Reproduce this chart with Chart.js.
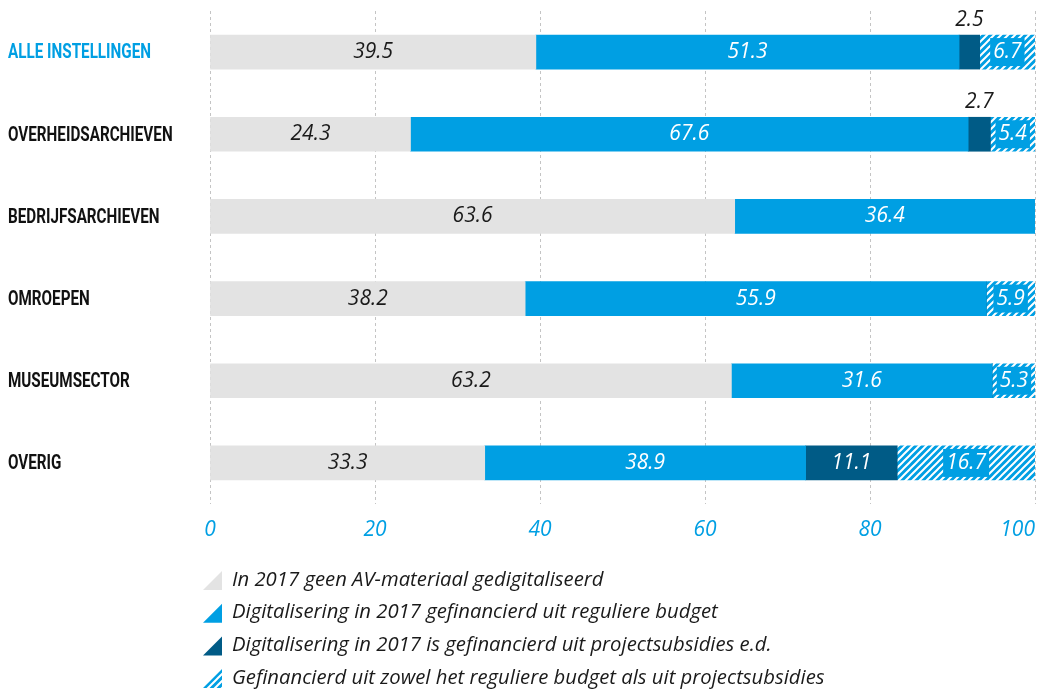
<!DOCTYPE html>
<html>
<head>
<meta charset="utf-8">
<script src="https://cdn.jsdelivr.net/npm/chart.js@4/dist/chart.umd.min.js"></script>
<style>
  html, body { margin: 0; padding: 0; background: #fff; }
  #wrap { width: 1037px; height: 689px; position: relative; }
</style>
</head>
<body>
<div id="wrap"><canvas id="chart"></canvas></div>
<script>
const categories = ['ALLE INSTELLINGEN', 'OVERHEIDSARCHIEVEN', 'BEDRIJFSARCHIEVEN', 'OMROEPEN', 'MUSEUMSECTOR', 'OVERIG'];
const geenDigitalisering = [39.5, 24.3, 63.6, 38.2, 63.2, 33.3];
const reguliereBudget = [51.3, 67.6, 36.4, 55.9, 31.6, 38.9];
const projectsubsidies = [2.5, 2.7, 0, 0, 0, 11.1];
const beide = [6.7, 5.4, 0, 5.9, 5.3, 16.7];
const xTicks = [0, 20, 40, 60, 80, 100];
const legendLabels = [
  'In 2017 geen AV-materiaal gedigitaliseerd',
  'Digitalisering in 2017 gefinancierd uit reguliere budget',
  'Digitalisering in 2017 is gefinancierd uit projectsubsidies e.d.',
  'Gefinancierd uit zowel het reguliere budget als uit projectsubsidies'
];

const GREY = '#e3e3e3';
const BLUE = '#009fe3';
const DARK = '#005b86';
const TEXT = '#1a1a1a';
const ITALIC = 'italic 21px "Open Sans"';
const LEGEND_FONT = 'italic 20.3px "Open Sans"';
const CAT_FONT = 'bold 21px Roboto';

// diagonal stripes for the "both" segment
function makeHatch() {
  const n = 7;
  const c = document.createElement('canvas');
  c.width = n; c.height = n;
  const g = c.getContext('2d');
  g.fillStyle = BLUE;
  g.fillRect(0, 0, n, n);
  g.strokeStyle = '#fff';
  g.lineWidth = 2;
  g.beginPath();
  g.moveTo(0, n); g.lineTo(n, 0);
  g.moveTo(-1, 1); g.lineTo(1, -1);
  g.moveTo(n - 1, n + 1); g.lineTo(n + 1, n - 1);
  g.stroke();
  return document.getElementById('chart').getContext('2d').createPattern(c, 'repeat');
}
const hatch = makeHatch();
const legendFills = [GREY, BLUE, DARK, hatch];

const valueLabels = {
  id: 'valueLabels',
  afterDatasetsDraw(chart) {
    const ctx = chart.ctx;
    ctx.save();
    ctx.font = ITALIC;
    ctx.textAlign = 'center';
    ctx.textBaseline = 'middle';
    chart.data.datasets.forEach((ds, di) => {
      const meta = chart.getDatasetMeta(di);
      meta.data.forEach((bar, i) => {
        const v = ds.data[i];
        if (!v) return;
        const txt = v.toFixed(1);
        const x = (bar.x + bar.base) / 2;
        const y = bar.y;
        const w = Math.abs(bar.x - bar.base);
        if (di === 0) {
          ctx.fillStyle = TEXT;
          ctx.fillText(txt, x, y);
        } else if (di === 1) {
          ctx.fillStyle = '#fff';
          ctx.fillText(txt, x, y);
        } else if (di === 2) {
          if (w < 35) {
            ctx.fillStyle = TEXT;
            ctx.fillText(txt, x, bar.y - bar.height / 2 - 15);
          } else {
            ctx.fillStyle = '#fff';
            ctx.fillText(txt, x, y);
          }
        } else {
          const tw = ctx.measureText(txt).width;
          ctx.fillStyle = BLUE;
          ctx.fillRect(x - tw / 2 - 3, bar.y - bar.height / 2 + 3, tw + 6, bar.height - 6);
          ctx.fillStyle = '#fff';
          ctx.fillText(txt, x, y);
        }
      });
    });
    ctx.restore();
  },
  afterDraw(chart) {
    const ctx = chart.ctx;
    const xs = chart.scales.x;
    const ys = chart.scales.y;
    ctx.save();
    // category labels, condensed bold
    ctx.font = CAT_FONT;
    ctx.textAlign = 'left';
    ctx.textBaseline = 'middle';
    const squeeze = 143 / ctx.measureText(categories[0]).width;
    categories.forEach((cat, i) => {
      ctx.save();
      ctx.translate(8, ys.getPixelForValue(i) + 1);
      ctx.scale(squeeze, 1);
      ctx.fillStyle = i === 0 ? BLUE : '#111';
      ctx.fillText(cat, 0, 0);
      ctx.restore();
    });
    // x tick labels
    ctx.font = ITALIC;
    ctx.fillStyle = BLUE;
    ctx.textAlign = 'center';
    xTicks.forEach(v => {
      let x = xs.getPixelForValue(v);
      const tw = ctx.measureText(String(v)).width;
      if (x + tw / 2 > chart.width - 2) x = chart.width - 2 - tw / 2;
      ctx.fillText(String(v), x, 530);
    });
    // legend
    ctx.font = LEGEND_FONT;
    ctx.textAlign = 'left';
    legendLabels.forEach((lab, i) => {
      const cy = 580 + i * 32.7;
      ctx.fillStyle = legendFills[i];
      ctx.beginPath();
      ctx.moveTo(203, cy + 10);
      ctx.lineTo(222, cy + 10);
      ctx.lineTo(222, cy - 9);
      ctx.closePath();
      ctx.fill();
      ctx.fillStyle = TEXT;
      ctx.fillText(lab, 232, cy);
    });
    ctx.restore();
  }
};

new Chart(document.getElementById('chart'), {
  type: 'bar',
  data: {
    labels: categories,
    datasets: [
      { label: legendLabels[0], data: geenDigitalisering, backgroundColor: GREY },
      { label: legendLabels[1], data: reguliereBudget, backgroundColor: BLUE },
      { label: legendLabels[2], data: projectsubsidies, backgroundColor: DARK },
      { label: legendLabels[3], data: beide, backgroundColor: hatch }
    ]
  },
  options: {
    indexAxis: 'y',
    responsive: true,
    maintainAspectRatio: false,
    animation: false,
    barThickness: 34,
    layout: { padding: { left: 8, right: 2, top: 11, bottom: 185 } },
    plugins: { legend: { display: false }, tooltip: { enabled: false } },
    scales: {
      x: {
        stacked: true,
        min: 0,
        max: 100,
        afterBuildTicks: s => { s.ticks = xTicks.map(v => ({ value: v })); },
        ticks: { display: false },
        grid: { color: '#c4c4c4', drawTicks: false },
        border: { display: false, dash: [3, 3] }
      },
      y: {
        stacked: true,
        grid: { display: false },
        border: { display: false },
        afterFit: s => { s.width = 202; },
        ticks: { display: false }
      }
    }
  },
  plugins: [valueLabels]
});
</script>
</body>
</html>
